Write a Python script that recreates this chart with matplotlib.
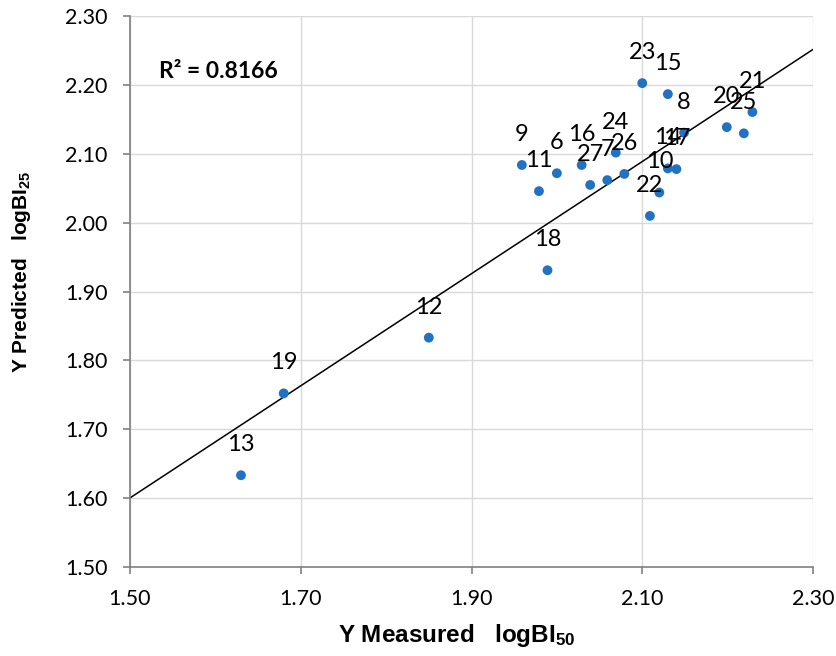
import matplotlib
matplotlib.use("Agg")
import matplotlib.pyplot as plt
from matplotlib import font_manager as fm

names = {f.name for f in fm.fontManager.ttflist}
narrow = "Liberation Sans Narrow" if "Liberation Sans Narrow" in names else "Liberation Sans"

plt.rcParams['font.family'] = ['Lato', 'DejaVu Sans']
plt.rcParams['mathtext.fontset'] = 'custom'
plt.rcParams['mathtext.bf'] = f'{narrow}:bold'
plt.rcParams['mathtext.rm'] = f'{narrow}:bold'
plt.rcParams['mathtext.default'] = 'bf'

# Data
labels = ["9", "11", "6", "16", "27", "7", "24", "26", "23", "15", "8", "14", "17",
          "10", "22", "20", "25", "21", "18", "12", "19", "13"]
measured = [1.959, 1.979, 2.000, 2.029, 2.039, 2.059, 2.069, 2.079, 2.100, 2.130,
            2.149, 2.130, 2.140, 2.120, 2.109, 2.199, 2.219, 2.229, 1.989, 1.850,
            1.680, 1.630]
predicted = [2.084, 2.046, 2.072, 2.084, 2.055, 2.062, 2.102, 2.071, 2.203, 2.187,
             2.131, 2.079, 2.078, 2.044, 2.010, 2.139, 2.130, 2.161, 1.931, 1.833,
             1.752, 1.633]
trend_slope = 0.815
trend_intercept = 0.3775
r2_text = "R² = 0.8166"
xticks = [1.50, 1.70, 1.90, 2.10, 2.30]
yticks = [1.50, 1.60, 1.70, 1.80, 1.90, 2.00, 2.10, 2.20, 2.30]

fig = plt.figure(figsize=(8.36, 6.56), dpi=100)
ax = fig.add_axes([0.1555, 0.1361, 0.9725 - 0.1555, 0.975 - 0.1361])

ax.set_xlim(1.50, 2.30)
ax.set_ylim(1.50, 2.30)
ax.set_xticks(xticks)
ax.set_yticks(yticks)
ax.set_xticklabels([f"{v:.2f}" for v in xticks])
ax.set_yticklabels([f"{v:.2f}" for v in yticks])
ax.grid(True, color="#d9d9d9", linewidth=1.0)
ax.set_axisbelow(True)
for s in ["top", "right"]:
    ax.spines[s].set_visible(False)
for s in ["left", "bottom"]:
    ax.spines[s].set_color("#808080")
    ax.spines[s].set_linewidth(1.2)
ax.tick_params(axis="both", direction="out", length=5, width=1.2, color="#808080",
               labelsize=15.5, labelcolor="black", pad=11)

# trendline
xl = [1.50, 2.30]
ax.plot(xl, [trend_intercept + trend_slope * v for v in xl], color="black", lw=1.1, zorder=2)

ax.scatter(measured, predicted, s=50, color="#2272c3", edgecolors="none", zorder=3)
for lab, x, y in zip(labels, measured, predicted):
    ax.annotate(lab, (x, y), xytext=(0, 22), textcoords="offset points",
                ha="center", va="center", fontsize=17, color="black", zorder=4)

ax.text(1.534, 2.22, r2_text, fontsize=16.5, fontweight="bold", ha="left", va="center")

ax.set_xlabel(r"Y Measured   logBI$_{50}$", family=narrow, fontweight="bold",
              fontsize=17.5)
ax.set_ylabel(r"Y Predicted   logBI$_{25}$", family=narrow, fontweight="bold",
              fontsize=15)
ax.xaxis.set_label_coords(0.479, -0.100)
ax.yaxis.set_label_coords(-0.142, 0.536)

fig.savefig("out.png", dpi=100)
